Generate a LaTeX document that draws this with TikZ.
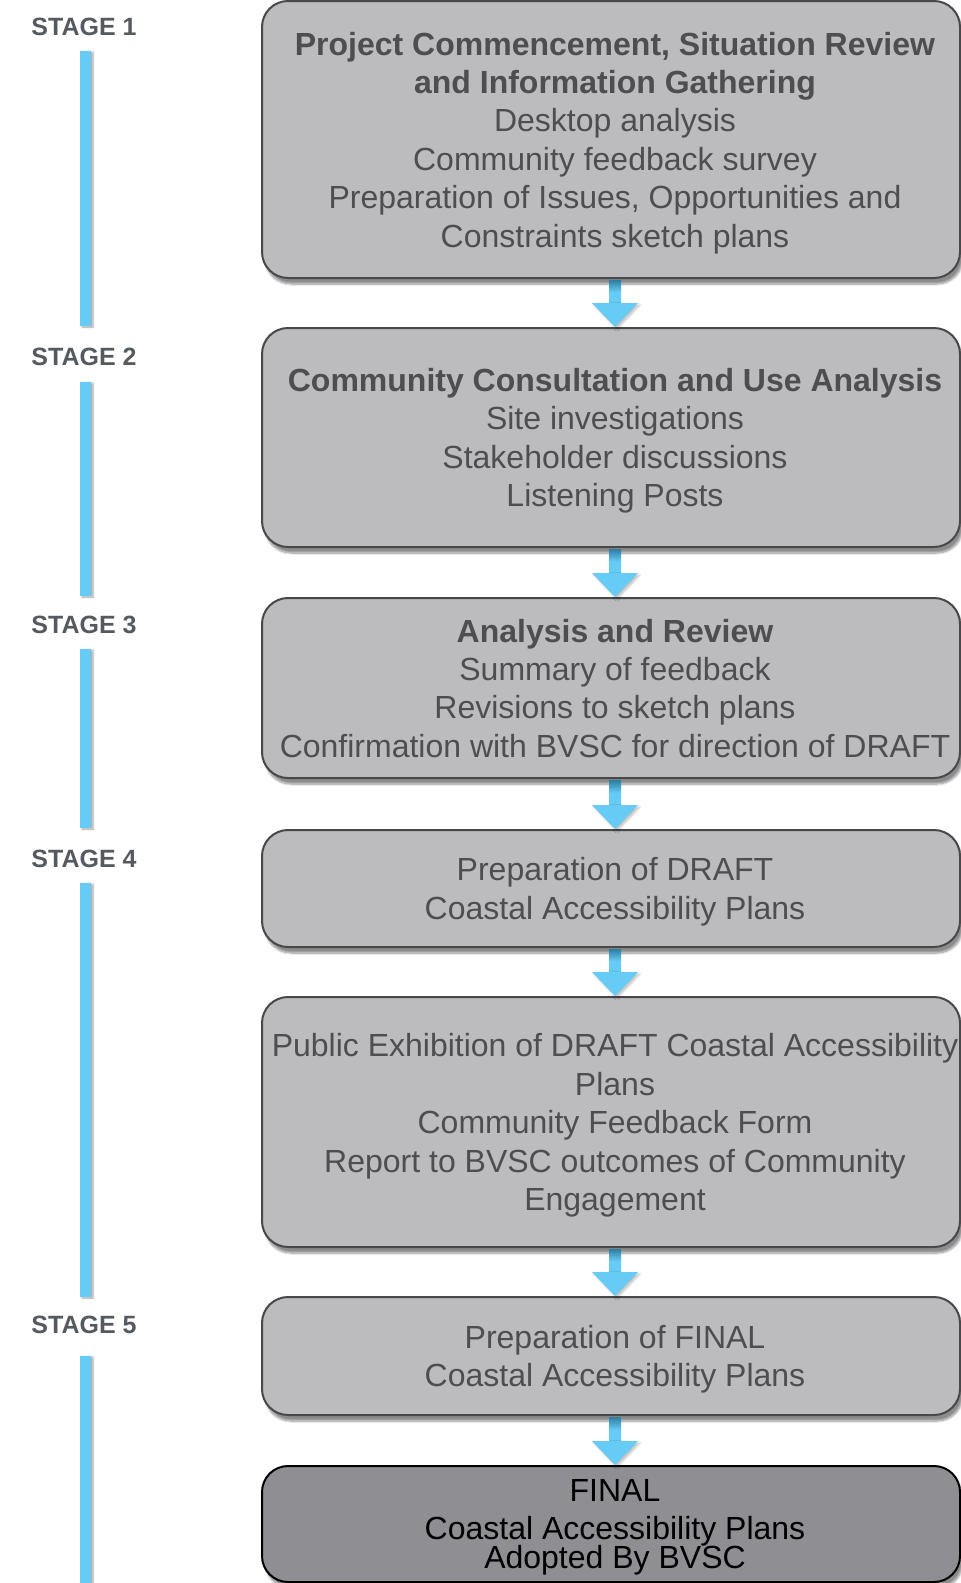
\documentclass[tikz,border=0pt]{standalone}
\usepackage{fontspec}
\setmainfont{Liberation Sans}
\usetikzlibrary{calc,shadows.blur}
\definecolor{boxfill}{RGB}{188,188,190}
\definecolor{boxline}{RGB}{72,72,74}
\definecolor{boxtext}{RGB}{78,78,80}
\definecolor{finalfill}{RGB}{143,142,147}
\definecolor{stagetext}{RGB}{85,90,96}
\definecolor{bluec}{RGB}{102,204,245}
\definecolor{stemdark}{RGB}{45,125,160}
\begin{document}
\begin{tikzpicture}[x=1pt,y=-1pt,
  stagebox/.style={draw=boxline, line width=2pt, fill=boxfill, rounded corners=26pt,
    minimum width=698pt, inner sep=0pt,
    blur shadow={shadow xshift=3pt, shadow yshift=-6pt, shadow blur steps=8, shadow opacity=45}},
  finalbox/.style={stagebox, draw=black, fill=finalfill},
  boxtxt/.style={align=center, text=boxtext, text depth=0pt, inner sep=0pt, xshift=4pt,
    font=\fontsize{32}{38.4}\selectfont},
  finaltxt/.style={boxtxt, text=black},
  stagelabel/.style={text=stagetext, font=\fontsize{25}{30}\selectfont\bfseries, inner sep=0pt},
  stagebar/.style={fill=bluec, blur shadow={shadow xshift=2pt, shadow yshift=-1pt, shadow blur steps=5, shadow opacity=35}},
  arrowstem/.style={top color=stemdark, bottom color=bluec, middle color=bluec},
  arrowhead/.style={fill=bluec, blur shadow={shadow xshift=2pt, shadow yshift=-2pt, shadow blur steps=5, shadow opacity=25}}]
\useasboundingbox (0,0) rectangle (961,1583);

% boxes
\node[stagebox, minimum height=277pt,
  label={[boxtxt, name=t1]center:{\textbf{Project Commencement, Situation Review}\\\textbf{and Information Gathering}\\Desktop analysis\\Community feedback survey\\Preparation of Issues, Opportunities and\\Constraints sketch plans}}]
  (b1) at (611,139.5) {};
\node[stagebox, minimum height=219pt,
  label={[boxtxt, name=t2]center:{\textbf{Community Consultation and Use Analysis}\\Site investigations\\Stakeholder discussions\\Listening Posts}}]
  (b2) at (611,437.5) {};
\node[stagebox, minimum height=180pt,
  label={[boxtxt, name=t3]center:{\textbf{Analysis and Review}\\Summary of feedback\\Revisions to sketch plans\\Confirmation with BVSC for direction of DRAFT}}]
  (b3) at (611,688) {};
\node[stagebox, minimum height=117pt,
  label={[boxtxt, name=t4]center:{Preparation of DRAFT\\Coastal Accessibility Plans}}]
  (b4) at (611,888.5) {};
\node[stagebox, minimum height=250pt,
  label={[boxtxt, name=t5]center:{Public Exhibition of DRAFT Coastal Accessibility\\Plans\\Community Feedback Form\\Report to BVSC outcomes of Community\\Engagement}}]
  (b5) at (611,1122) {};
\node[stagebox, minimum height=118pt,
  label={[boxtxt, name=t6]center:{Preparation of FINAL\\Coastal Accessibility Plans}}]
  (b6) at (611,1356) {};
\node[finalbox, minimum height=116pt,
  label={[finaltxt, name=t7]center:{FINAL\\Coastal Accessibility Plans\\[-9pt]Adopted By BVSC}}]
  (b7) at (611,1524) {};

% arrows between boxes
\foreach \ba/\bb in {b1/b2,b2/b3,b3/b4,b4/b5,b5/b6,b6/b7}{
  \shade[arrowstem] ($(\ba.south)+(-2,1)$) rectangle ($(\bb.north)+(10,-23)$);
  \fill[arrowhead] ($(\bb.north)+(-19,-24)$) -- ($(\bb.north)+(27,-24)$) -- ($(\bb.north)+(4,0)$) -- cycle;
}

% stage labels and bars
\node[stagelabel] (s1) at (84,27) {STAGE 1};
\node[stagelabel] (s2) at (84,357) {STAGE 2};
\node[stagelabel] (s3) at (84,625) {STAGE 3};
\node[stagelabel] (s4) at (84,859) {STAGE 4};
\node[stagelabel] (s5) at (84,1325) {STAGE 5};
\fill[stagebar] (80,51) rectangle (91,326);
\fill[stagebar] (80,382) rectangle (91,596);
\fill[stagebar] (80,649) rectangle (91,828);
\fill[stagebar] (80,883) rectangle (91,1297);
\fill[stagebar] (80,1356) rectangle (91,1590);
\end{tikzpicture}
\end{document}
